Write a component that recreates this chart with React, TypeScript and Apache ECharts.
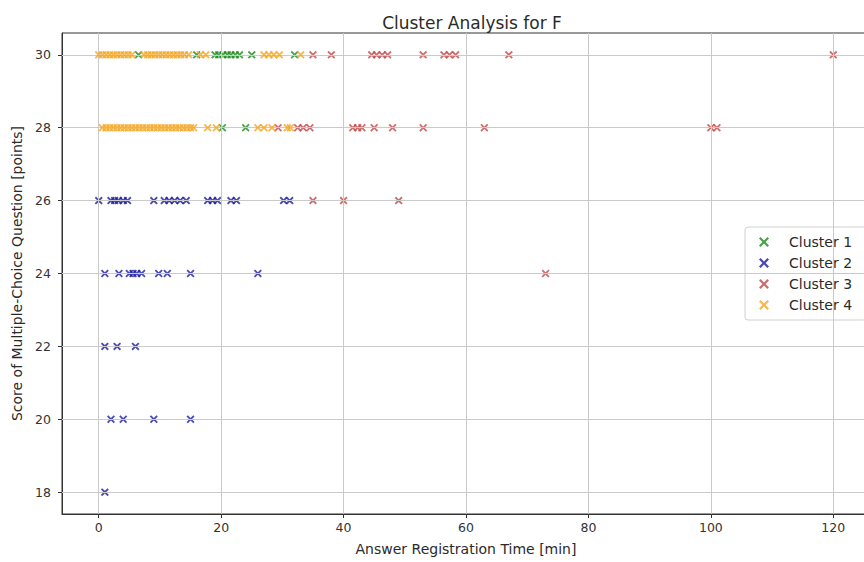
import React, { useEffect, useRef } from "react";
import * as echarts from "echarts";

const seriesNames = ["Cluster 1", "Cluster 2", "Cluster 3", "Cluster 4"];
const seriesColors = ["#1f8a1f", "#1c1ca0", "#c04a4a", "#f5a623"];

const xTicks = [0, 20, 40, 60, 80, 100, 120];
const yTicks = [18, 20, 22, 24, 26, 28, 30];

// [time (min), score]
const cluster1 = [
  [6.5, 30], [16, 30], [19, 30], [19.6, 30], [20.3, 30], [21, 30], [21.6, 30], [22.3, 30], [23, 30], [25, 30], [32, 30],
  [20.2, 28], [24, 28],
];
const cluster2 = [
  [0, 26], [2, 26], [2.6, 26], [3.2, 26], [4, 26], [4.7, 26], [9, 26], [10.7, 26], [11.5, 26], [12.4, 26], [13.3, 26],
  [14.3, 26], [17.8, 26], [18.6, 26], [19.4, 26], [21.6, 26], [22.5, 26], [30.2, 26], [31.2, 26],
  [1, 24], [3.3, 24], [5, 24], [5.6, 24], [6.2, 24], [7, 24], [9.8, 24], [11.2, 24], [15, 24], [26, 24],
  [1, 22], [3, 22], [6, 22],
  [2, 20], [4, 20], [9, 20], [15, 20],
  [1, 18],
];
const cluster3 = [
  [35, 30], [38, 30], [44.6, 30], [45.4, 30], [46.3, 30], [47.2, 30], [53, 30], [56.4, 30], [57.3, 30], [58.3, 30], [67, 30], [120, 30],
  [29.3, 28], [32.5, 28], [33.4, 28], [34.5, 28], [41.5, 28], [42.3, 28], [43, 28], [45, 28], [48, 28], [53, 28], [63, 28], [100, 28], [101, 28],
  [35, 26], [40, 26], [49, 26],
  [73, 24],
];
const cluster4 = [
  [0, 30], [0.6, 30], [1.2, 30], [1.8, 30], [2.4, 30], [3, 30], [3.6, 30], [4.2, 30], [4.8, 30], [5.4, 30],
  [7.4, 30], [8, 30], [8.6, 30], [9.2, 30], [9.8, 30], [10.4, 30], [11, 30], [11.6, 30], [12.2, 30], [12.8, 30],
  [13.4, 30], [14, 30], [14.7, 30], [16.6, 30], [17.5, 30], [27, 30], [27.8, 30], [28.6, 30], [29.5, 30], [33, 30],
  [0.6, 28], [1.2, 28], [1.8, 28], [2.4, 28], [3, 28], [3.6, 28], [4.2, 28], [4.8, 28], [5.4, 28], [6, 28],
  [6.6, 28], [7.2, 28], [7.8, 28], [8.4, 28], [9, 28], [9.6, 28], [10.2, 28], [10.8, 28], [11.4, 28], [12, 28],
  [12.6, 28], [13.2, 28], [13.8, 28], [14.4, 28], [15, 28], [15.5, 28], [17.8, 28], [19.2, 28], [26, 28], [27, 28],
  [28.3, 28], [30.8, 28], [31.3, 28],
];
const clusters = [cluster1, cluster2, cluster3, cluster4];

const X_MARK =
  "path://M0,1.6L1.6,0L5,3.4L8.4,0L10,1.6L6.6,5L10,8.4L8.4,10L5,6.6L1.6,10L0,8.4L3.4,5Z";

const FONT = "DejaVu Sans";

export default function App() {
  const ref = useRef<HTMLDivElement>(null);
  useEffect(() => {
    if (!ref.current) return;
    const chart = echarts.init(ref.current, undefined, { renderer: "svg" });
    const gridLineStyle = { color: "#cacaca", width: 1 };
    chart.setOption({
      animation: false,
      backgroundColor: "#ffffff",
      textStyle: { fontFamily: FONT },
      title: {
        text: "Cluster Analysis for F",
        left: 467,
        top: 9,
        textAlign: "center",
        textStyle: { fontFamily: FONT, fontSize: 17, fontWeight: "normal", color: "#2a2a2a" },
      },
      legend: {
        orient: "vertical",
        left: 745,
        top: 227,
        itemWidth: 10,
        itemHeight: 10,
        itemGap: 7,
        padding: [8, 14, 8, 14],
        borderColor: "#d0d0d0",
        borderWidth: 1,
        borderRadius: 3,
        backgroundColor: "#ffffff",
        icon: X_MARK,
        textStyle: { fontFamily: FONT, fontSize: 14, color: "#2a2a2a", padding: [0, 0, 0, 15] },
        data: seriesNames,
      },
      grid: { left: 62, right: 10, top: 33, bottom: 48, show: true, borderColor: "#333", borderWidth: 1 },
      xAxis: {
        type: "value",
        min: -6,
        max: 126,
        name: "Answer Registration Time [min]",
        nameLocation: "middle",
        nameGap: 28,
        nameTextStyle: { fontFamily: FONT, fontSize: 14, color: "#2a2a2a" },
        axisLine: { show: true, onZero: false, lineStyle: { color: "#333" } },
        axisTick: { show: true, length: 4, customValues: xTicks, lineStyle: { color: "#333" } },
        axisLabel: { customValues: xTicks, fontFamily: FONT, fontSize: 12.5, color: "#333", margin: 7 },
        splitLine: { show: false },
      },
      yAxis: {
        type: "value",
        min: 17.4,
        max: 30.6,
        name: "Score of Multiple-Choice Question [points]",
        nameLocation: "middle",
        nameGap: 36,
        nameTextStyle: { fontFamily: FONT, fontSize: 14, color: "#2a2a2a" },
        axisLine: { show: true, onZero: false, lineStyle: { color: "#333" } },
        axisTick: { show: true, length: 4, customValues: yTicks, lineStyle: { color: "#333" } },
        axisLabel: { customValues: yTicks, fontFamily: FONT, fontSize: 12.5, color: "#333", margin: 11 },
        splitLine: { show: false },
      },
      series: [
        {
          name: "grid",
          type: "scatter",
          data: [],
          silent: true,
          z: 0,
          markLine: {
            silent: true,
            symbol: ["none", "none"],
            label: { show: false },
            lineStyle: { ...gridLineStyle, type: "solid" },
            data: [
              ...xTicks.map((v) => ({ xAxis: v })),
              ...yTicks.map((v) => ({ yAxis: v })),
            ],
          },
        },
        ...clusters.map((data, i) => ({
          name: seriesNames[i],
          type: "scatter",
          data,
          symbol: X_MARK,
          symbolSize: 8,
          z: 2 + i,
          itemStyle: { color: seriesColors[i], opacity: 0.8 },
        })),
      ],
    });
    return () => chart.dispose();
  }, []);
  return (
    <div style={{ position: "absolute", left: 0, top: 0, width: 864, height: 562, overflow: "hidden" }}>
      <div ref={ref} style={{ width: 880, height: 562 }} />
    </div>
  );
}
